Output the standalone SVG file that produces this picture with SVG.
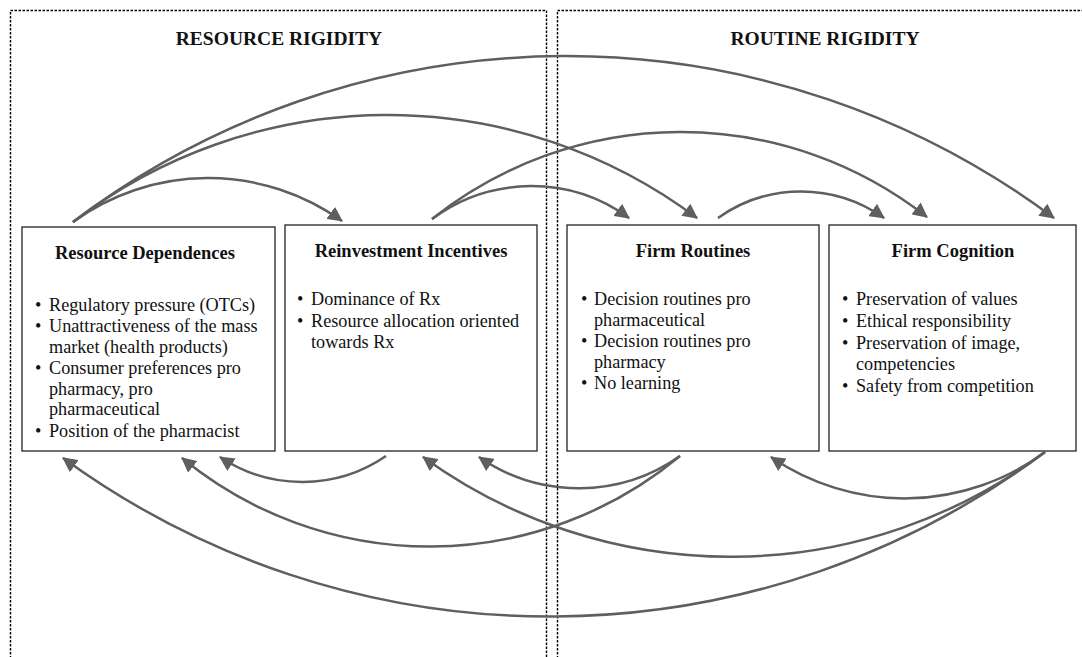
<svg xmlns="http://www.w3.org/2000/svg" width="1082" height="657" viewBox="0 0 1082 657">
  <style>
    .zone { fill: none; stroke: #000; stroke-width: 1.4; stroke-dasharray: 2.5 1.5; }
    .zone-title { font-family: "Liberation Serif", "Times New Roman", serif; font-weight: bold; font-size: 19.5px; fill: #111; text-anchor: middle; }
    .box { fill: #fff; stroke: #222; stroke-width: 1.3; }
    .box-title { font-family: "Liberation Serif", "Times New Roman", serif; font-weight: bold; font-size: 18.5px; fill: #111; text-anchor: middle; }
    .entry { font-family: "Liberation Serif", "Times New Roman", serif; font-weight: normal; font-size: 18.2px; fill: #111; }
    .link { fill: none; stroke: #5f5f5f; stroke-width: 2.5; marker-end: url(#head); }
  </style>
  <defs>
    <marker id="head" viewBox="0 0 14 14" refX="13" refY="7" markerWidth="15" markerHeight="15" markerUnits="userSpaceOnUse" orient="auto">
      <path d="M0,0 L14,7 L0,14 z" fill="#5f5f5f"/>
    </marker>
  </defs>

  <rect width="1082" height="657" fill="#fff"/>

  <!-- the two rigidity zones -->
  <g id="zones">
    <rect class="zone" x="10.5" y="10.5" width="536" height="700"/>
    <rect class="zone" x="557.5" y="10.5" width="540" height="700"/>
    <text class="zone-title" x="279" y="45">RESOURCE RIGIDITY</text>
    <text class="zone-title" x="825" y="45">ROUTINE RIGIDITY</text>
  </g>

  <g id="resource-dependences">
    <rect class="box" x="22" y="227" width="253" height="224"/>
    <text class="box-title" x="145" y="259">Resource Dependences</text>
    <text class="entry" x="35" y="311">•</text><text class="entry" x="49" y="311">Regulatory pressure (OTCs)</text>
    <text class="entry" x="35" y="332">•</text><text class="entry" x="49" y="332">Unattractiveness of the mass</text>
    <text class="entry" x="49" y="352.5">market (health products)</text>
    <text class="entry" x="35" y="374">•</text><text class="entry" x="49" y="374">Consumer preferences pro</text>
    <text class="entry" x="49" y="394.5">pharmacy, pro</text>
    <text class="entry" x="49" y="415">pharmaceutical</text>
    <text class="entry" x="35" y="437">•</text><text class="entry" x="49" y="437">Position of the pharmacist</text>
  </g>

  <g id="reinvestment-incentives">
    <rect class="box" x="285" y="225" width="252" height="226"/>
    <text class="box-title" x="411" y="257">Reinvestment Incentives</text>
    <text class="entry" x="297" y="305">•</text><text class="entry" x="311" y="305">Dominance of Rx</text>
    <text class="entry" x="297" y="327">•</text><text class="entry" x="311" y="327">Resource allocation oriented</text>
    <text class="entry" x="311" y="347.5">towards Rx</text>
  </g>

  <g id="firm-routines">
    <rect class="box" x="567" y="225" width="252" height="226"/>
    <text class="box-title" x="693" y="257">Firm Routines</text>
    <text class="entry" x="581" y="305">•</text><text class="entry" x="594" y="305">Decision routines pro</text>
    <text class="entry" x="594" y="325.5">pharmaceutical</text>
    <text class="entry" x="581" y="347">•</text><text class="entry" x="594" y="347">Decision routines pro</text>
    <text class="entry" x="594" y="367.5">pharmacy</text>
    <text class="entry" x="581" y="389">•</text><text class="entry" x="594" y="389">No learning</text>
  </g>

  <g id="firm-cognition">
    <rect class="box" x="829" y="225" width="247" height="226"/>
    <text class="box-title" x="953" y="257">Firm Cognition</text>
    <text class="entry" x="842" y="305">•</text><text class="entry" x="856" y="305">Preservation of values</text>
    <text class="entry" x="842" y="327">•</text><text class="entry" x="856" y="327">Ethical responsibility</text>
    <text class="entry" x="842" y="349">•</text><text class="entry" x="856" y="349">Preservation of image,</text>
    <text class="entry" x="856" y="369.5">competencies</text>
    <text class="entry" x="842" y="392">•</text><text class="entry" x="856" y="392">Safety from competition</text>
  </g>

  <g id="connectors">
    <!-- forward influences, over the top -->
    <path class="link" d="M73,222 A230,230 0 0 1 342,221"/>
    <path class="link" d="M73,222 A516,516 0 0 1 697,218"/>
    <path class="link" d="M73,222 A816,816 0 0 1 1054,218"/>
    <path class="link" d="M432,219 A166,166 0 0 1 629,218"/>
    <path class="link" d="M432,219 A399,399 0 0 1 927,217"/>
    <path class="link" d="M718,218 A143,143 0 0 1 884,218"/>
    <!-- feedback influences, underneath -->
    <path class="link" d="M386,456 A148,148 0 0 1 220,457"/>
    <path class="link" d="M680,456 A175,175 0 0 1 479,457"/>
    <path class="link" d="M680,456 A391,391 0 0 1 182,458"/>
    <path class="link" d="M1045,452 A236,236 0 0 1 771,457"/>
    <path class="link" d="M1045,452 A524,524 0 0 1 423,457"/>
    <path class="link" d="M1045,452 A827,827 0 0 1 63,458"/>
  </g>
</svg>
